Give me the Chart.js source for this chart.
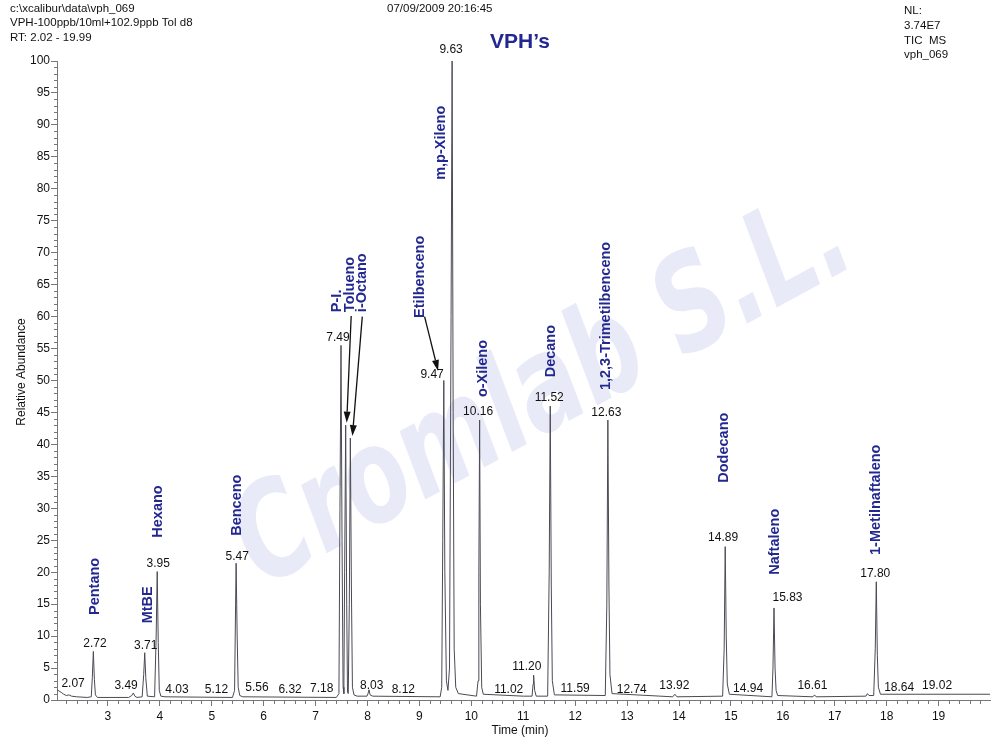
<!DOCTYPE html>
<html>
<head>
<meta charset="utf-8">
<script src="https://cdn.jsdelivr.net/npm/chart.js@4.4.1/dist/chart.umd.min.js"></script>
<style>
html,body{margin:0;padding:0;background:#fff;}
#wrap{width:1000px;height:740px;position:relative;}
</style>
</head>
<body>
<div id="wrap"><canvas id="c" width="1000" height="740"></canvas></div>
<script>
// ---------- DATA ----------
const traceTime = [2.02,2.06,2.10,2.15,2.20,2.25,2.30,2.40,2.60,2.68,2.70,2.72,2.74,2.76,2.80,3.40,3.46,3.49,3.52,3.56,3.66,3.69,3.71,3.73,3.76,3.90,3.93,3.95,3.97,3.99,4.02,4.10,5.40,5.44,5.46,5.47,5.49,5.51,5.54,5.60,7.40,7.45,7.47,7.49,7.51,7.53,7.545,7.56,7.58,7.60,7.615,7.63,7.65,7.67,7.69,7.71,7.74,7.80,7.99,8.01,8.03,8.05,8.10,9.40,9.43,9.45,9.47,9.49,9.52,9.55,9.58,9.61,9.63,9.65,9.67,9.70,9.75,10.10,10.13,10.145,10.16,10.175,10.20,10.23,11.00,11.17,11.19,11.20,11.22,11.25,11.47,11.50,11.52,11.54,11.56,11.60,12.58,12.61,12.63,12.65,12.67,12.71,13.88,13.92,13.96,14.84,14.87,14.89,14.91,14.93,14.97,15.79,15.81,15.83,15.85,15.87,15.90,16.58,16.61,16.64,17.60,17.63,17.66,17.75,17.78,17.80,17.82,17.84,17.88,19.99];
const traceAbund = [1.6,1.4,1.2,0.9,0.7,0.8,0.6,0.5,0.4,0.5,3.5,7.6,3.2,0.8,0.4,0.4,0.7,1.1,0.6,0.4,0.5,4.0,7.4,3.5,0.6,0.5,10.0,20.1,9.0,1.5,0.6,0.5,0.4,1.5,15.0,21.4,10.0,2.0,0.7,0.5,0.4,1.0,30.0,55.5,25.0,2.0,1.0,20.0,43.0,15.0,1.2,1.0,15.0,41.0,18.0,2.0,0.8,0.6,0.6,1.0,1.6,0.8,0.6,0.5,2.0,25.0,50.0,20.0,3.0,1.5,5.0,60.0,100.0,45.0,8.0,2.0,1.0,0.6,3.0,20.0,43.8,15.0,2.0,0.9,0.6,0.6,2.5,3.9,1.5,0.6,0.6,20.0,46.0,18.0,3.0,0.8,0.7,15.0,43.8,18.0,4.0,1.0,0.5,0.9,0.5,0.6,8.0,24.0,10.0,2.5,0.9,0.5,5.0,14.4,5.0,1.5,0.7,0.5,0.8,0.5,0.6,1.0,0.7,0.7,8.0,18.5,7.0,2.0,0.9,0.9];

// retention-time labels: text, anchor time, anchor abundance (label centre)
const rtLabels = ["2.07","2.72","3.49","3.71","3.95","4.03","5.12","5.47","5.56","6.32","7.18","7.49","8.03","8.12","9.47","9.63","10.16","11.02","11.20","11.52","11.59","12.63","12.74","13.92","14.89","14.94","15.83","16.61","17.80","18.64","19.02"];
const rtLabelTime = [2.33,2.75,3.35,3.73,3.97,4.33,5.09,5.49,5.87,6.51,7.12,7.43,8.08,8.69,9.245,9.61,10.13,10.72,11.07,11.50,12.00,12.60,13.09,13.91,14.85,15.33,16.09,16.57,17.78,18.24,18.97];
const rtLabelAbund = [2.5,8.8,2.2,8.5,21.4,1.6,1.6,22.5,2.0,1.6,1.7,56.7,2.3,1.6,50.9,101.7,45.1,1.6,5.2,47.3,1.7,44.9,1.6,2.2,25.4,1.7,16.0,2.2,19.7,2.0,2.3];

// compound names: anchor time and abundance at the text's lower end
const compounds = ["Pentano","MtBE","Hexano","Benceno","P-I.","Tolueno","i-Octano","Etilbenceno","m,p-Xileno","o-Xileno","Decano","1,2,3-Trimetilbenceno","Dodecano","Naftaleno","1-Metilnaftaleno"];
const compoundTime = [2.752,3.77,3.97,5.49,7.415,7.66,7.89,9.014,9.42,10.23,11.54,12.60,14.87,15.85,17.80];
const compoundAbund = [13.3,12.0,25.4,25.7,60.7,60.7,60.7,59.8,81.4,47.4,50.5,48.5,34.0,19.6,22.7];

// arrows (time, abundance) from -> to
const arrowFromTime = [7.686,7.90,9.10];
const arrowFromAbund = [60.1,60.0,60.0];
const arrowToTime = [7.60,7.71,9.36];
const arrowToAbund = [43.4,41.3,51.5];

const xTickValues = [3,4,5,6,7,8,9,10,11,12,13,14,15,16,17,18,19];

const headerLeft = ["c:\\xcalibur\\data\\vph_069","VPH-100ppb/10ml+102.9ppb Tol d8","RT: 2.02 - 19.99"];
const headerDate = "07/09/2009 20:16:45";
const headerRight = ["NL:","3.74E7","TIC  MS","vph_069"];
const chartTitle = "VPH\u2019s";
const watermark = "Cromlab S.L.";

// ---------- DRAWING ----------
const FONT = "'Liberation Sans', Arial, sans-serif";
const BLUE = "#22288f";

const overlay = {
  id: 'overlay',
  beforeDatasetsDraw(chart) {
    const ctx = chart.ctx;
    // watermark
    ctx.save();
    ctx.translate(545, 395);
    ctx.rotate(-0.5);
    ctx.font = "italic bold 120px 'DejaVu Sans', sans-serif";
    const w = ctx.measureText(watermark).width;
    ctx.scale(680 / w, 1.1);
    ctx.fillStyle = "rgba(150,158,222,0.22)";
    ctx.textAlign = 'center';
    ctx.textBaseline = 'middle';
    ctx.fillText(watermark, 0, 0);
    ctx.restore();
  },
  afterDraw(chart) {
    const ctx = chart.ctx;
    const xs = chart.scales.x, ys = chart.scales.y;
    const ca = chart.chartArea;
    ctx.save();
    // minor ticks
    ctx.strokeStyle = '#777';
    ctx.lineWidth = 1;
    ctx.beginPath();
    for (let i = 11; i <= 99; i++) {
      if (i % 5 === 0) continue;
      const x = Math.round(xs.getPixelForValue(i / 5)) + 0.5;
      ctx.moveTo(x, ca.bottom); ctx.lineTo(x, ca.bottom + 4);
    }
    for (let v = 1; v < 100; v++) {
      if (v % 5 === 0) continue;
      const y = Math.round(ys.getPixelForValue(v)) + 0.5;
      ctx.moveTo(ca.left - 3, y); ctx.lineTo(ca.left, y);
    }
    ctx.stroke();

    // header text
    ctx.fillStyle = '#111';
    ctx.font = "11.5px " + FONT;
    ctx.textBaseline = 'middle';
    ctx.textAlign = 'left';
    [9, 23, 38].forEach((y, i) => ctx.fillText(headerLeft[i], 10, y));
    ctx.fillText(headerDate, 387, 9);
    [11, 26, 41, 55].forEach((y, i) => ctx.fillText(headerRight[i], 904, y));

    // title
    ctx.fillStyle = BLUE;
    ctx.font = "bold 21px " + FONT;
    ctx.textAlign = 'center';
    ctx.fillText(chartTitle, 520, 42);

    // axis titles
    ctx.fillStyle = '#111';
    ctx.font = "12px " + FONT;
    ctx.fillText("Time (min)", 520, 731);
    ctx.save();
    ctx.translate(22, 372);
    ctx.rotate(-Math.PI / 2);
    ctx.fillText("Relative Abundance", 0, 0);
    ctx.restore();

    // RT labels
    ctx.font = "12px " + FONT;
    ctx.fillStyle = '#111';
    ctx.textAlign = 'center';
    rtLabels.forEach((t, i) => {
      ctx.fillText(t, xs.getPixelForValue(rtLabelTime[i]), ys.getPixelForValue(rtLabelAbund[i]));
    });

    // compound names
    ctx.font = "bold 14.5px " + FONT;
    ctx.fillStyle = BLUE;
    ctx.textAlign = 'left';
    compounds.forEach((name, i) => {
      ctx.save();
      ctx.translate(xs.getPixelForValue(compoundTime[i]), ys.getPixelForValue(compoundAbund[i]));
      ctx.rotate(-Math.PI / 2);
      ctx.fillText(name, 0, 0);
      ctx.restore();
    });

    // arrows
    ctx.strokeStyle = '#111';
    ctx.fillStyle = '#111';
    ctx.lineWidth = 1.3;
    arrowFromTime.forEach((ft, i) => {
      const x1 = xs.getPixelForValue(ft), y1 = ys.getPixelForValue(arrowFromAbund[i]);
      const x2 = xs.getPixelForValue(arrowToTime[i]), y2 = ys.getPixelForValue(arrowToAbund[i]);
      const a = Math.atan2(y2 - y1, x2 - x1);
      const hl = 11, hw = 3.5;
      const bx = x2 - hl * Math.cos(a), by = y2 - hl * Math.sin(a);
      ctx.beginPath(); ctx.moveTo(x1, y1); ctx.lineTo(bx, by); ctx.stroke();
      ctx.beginPath();
      ctx.moveTo(x2, y2);
      ctx.lineTo(bx + hw * Math.sin(a), by - hw * Math.cos(a));
      ctx.lineTo(bx - hw * Math.sin(a), by + hw * Math.cos(a));
      ctx.closePath(); ctx.fill();
    });
    ctx.restore();
  }
};

const points = traceTime.map((t, i) => ({x: t, y: traceAbund[i]}));

new Chart(document.getElementById('c'), {
  type: 'scatter',
  data: {
    datasets: [{
      data: points,
      showLine: true,
      borderColor: '#4a4a55',
      borderWidth: 1,
      pointRadius: 0,
      tension: 0
    }]
  },
  options: {
    responsive: false,
    animation: false,
    devicePixelRatio: 1,
    layout: {padding: {top: 61, right: 10, left: 0, bottom: 0}},
    plugins: {legend: {display: false}, tooltip: {enabled: false}},
    scales: {
      x: {
        type: 'linear', min: 2.02, max: 19.99,
        afterBuildTicks: s => { s.ticks = xTickValues.map(v => ({value: v})); },
        afterFit: s => { s.height = 40; },
        ticks: {color: '#111', font: {family: FONT, size: 12}, padding: 3, callback: v => String(v), autoSkip: false, maxRotation: 0},
        grid: {drawOnChartArea: false, drawTicks: true, tickLength: 6, color: '#777'},
        border: {color: '#777'}
      },
      y: {
        min: 0, max: 100,
        afterFit: s => { s.width = 57; },
        ticks: {stepSize: 5, color: '#111', font: {family: FONT, size: 12}, padding: 1},
        grid: {drawOnChartArea: false, drawTicks: true, tickLength: 6, color: '#777'},
        border: {color: '#777'}
      }
    }
  },
  plugins: [overlay]
});
</script>
</body>
</html>
